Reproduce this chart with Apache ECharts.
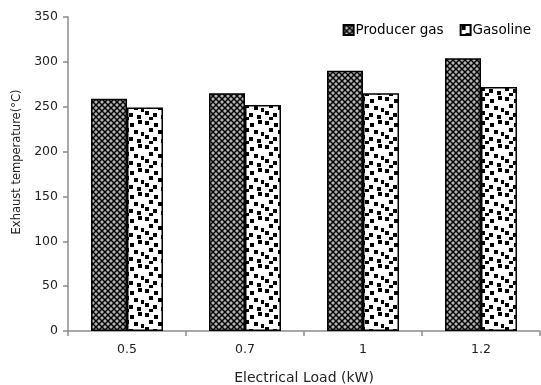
<!DOCTYPE html>
<html>
<head>
<meta charset="utf-8">
<script src="https://cdn.jsdelivr.net/npm/echarts@6/dist/echarts.min.js"></script>
<style>
html,body{margin:0;padding:0;background:#fff;}
#chart{width:541px;height:385px;}
</style>
</head>
<body>
<div id="chart"></div>
<script>
// Exhaust temperature by electrical load
const loads = ['0.5', '0.7', '1', '1.2'];
const producerGas = [259, 265, 290, 304];
const gasoline = [249, 252, 265, 272];
const seriesNames = ['Producer gas', 'Gasoline'];
const yTicks = { min: 0, max: 350, interval: 50 };

// Crosshatch fill: black crosses with light dots between them
function makeHatch() {
  const c = document.createElement('canvas');
  c.width = 6; c.height = 6;
  const g = c.getContext('2d');
  g.fillStyle = '#000';
  g.fillRect(0, 0, 6, 6);
  const dot = (x, y) => {
    g.fillStyle = '#7a7a7a';
    g.beginPath();
    g.moveTo(x, y - 2.2); g.lineTo(x + 2.2, y); g.lineTo(x, y + 2.2); g.lineTo(x - 2.2, y);
    g.closePath(); g.fill();
    g.fillStyle = '#f0f0f0';
    g.fillRect(x - 0.7, y - 0.7, 1.4, 1.4);
  };
  [[0,0],[6,0],[0,6],[6,6],[3,3]].forEach(p => dot(p[0], p[1]));
  return c;
}

// Confetti fill: white background with scattered black squares
function makeConfetti() {
  const c = document.createElement('canvas');
  c.width = 24; c.height = 24;
  const g = c.getContext('2d');
  g.fillStyle = '#fff';
  g.fillRect(0, 0, 24, 24);
  g.fillStyle = '#000';
  [[1,1],[10,3],[18,0],[5,8],[14,10],[21,12],[1,15],[9,17],[17,19],[5,21]]
    .forEach(p => g.fillRect(p[0], p[1], 4, 4));
  return c;
}

const hatch = { image: makeHatch(), repeat: 'repeat' };
const confetti = { image: makeConfetti(), repeat: 'repeat' };

const chart = echarts.init(document.getElementById('chart'), null, { renderer: 'canvas' });
const font = 'DejaVu Sans';

chart.setOption({
  animation: false,
  backgroundColor: '#fff',
  textStyle: { fontFamily: font },
  legend: {
    top: 18,
    right: 5,
    itemWidth: 10,
    itemHeight: 10,
    itemGap: 16,
    icon: 'rect',
    textStyle: { fontFamily: font, fontSize: 13.5, color: '#000', padding: [0, 0, 0, -3] },
    data: seriesNames
  },
  grid: { left: 68, right: 1, top: 17, bottom: 54, outerBoundsMode: 'none', containLabel: false },
  xAxis: {
    type: 'category',
    data: loads,
    name: 'Electrical Load (kW)',
    nameLocation: 'middle',
    nameGap: 40,
    nameTextStyle: { fontFamily: font, fontSize: 14, color: '#222' },
    axisLine: { lineStyle: { color: '#8c8c8c', width: 1.5 } },
    axisTick: { show: true, length: 5, lineStyle: { color: '#8c8c8c', width: 1.5 } },
    axisLabel: { fontFamily: font, fontSize: 12.5, color: '#222', margin: 12 }
  },
  yAxis: {
    type: 'value',
    min: yTicks.min,
    max: yTicks.max,
    interval: yTicks.interval,
    name: 'Exhaust temperature(\u00B0C)',
    nameLocation: 'middle',
    nameGap: 45,
    nameTextStyle: { fontFamily: font, fontSize: 11.5, color: '#222', padding: [0, 0, 0, 24] },
    axisLine: { show: true, lineStyle: { color: '#8c8c8c', width: 1.5 } },
    axisTick: { show: true, length: 5, lineStyle: { color: '#8c8c8c', width: 1.5 } },
    axisLabel: { fontFamily: font, fontSize: 12.5, color: '#222', margin: 10 },
    splitLine: { show: false }
  },
  series: [
    {
      name: seriesNames[0],
      type: 'bar',
      data: producerGas,
      barGap: '0%',
      barCategoryGap: '39%',
      itemStyle: { color: hatch, borderColor: '#000', borderWidth: 1.5 }
    },
    {
      name: seriesNames[1],
      type: 'bar',
      data: gasoline,
      itemStyle: { color: confetti, borderColor: '#000', borderWidth: 1.5 }
    }
  ]
});
</script>
</body>
</html>
